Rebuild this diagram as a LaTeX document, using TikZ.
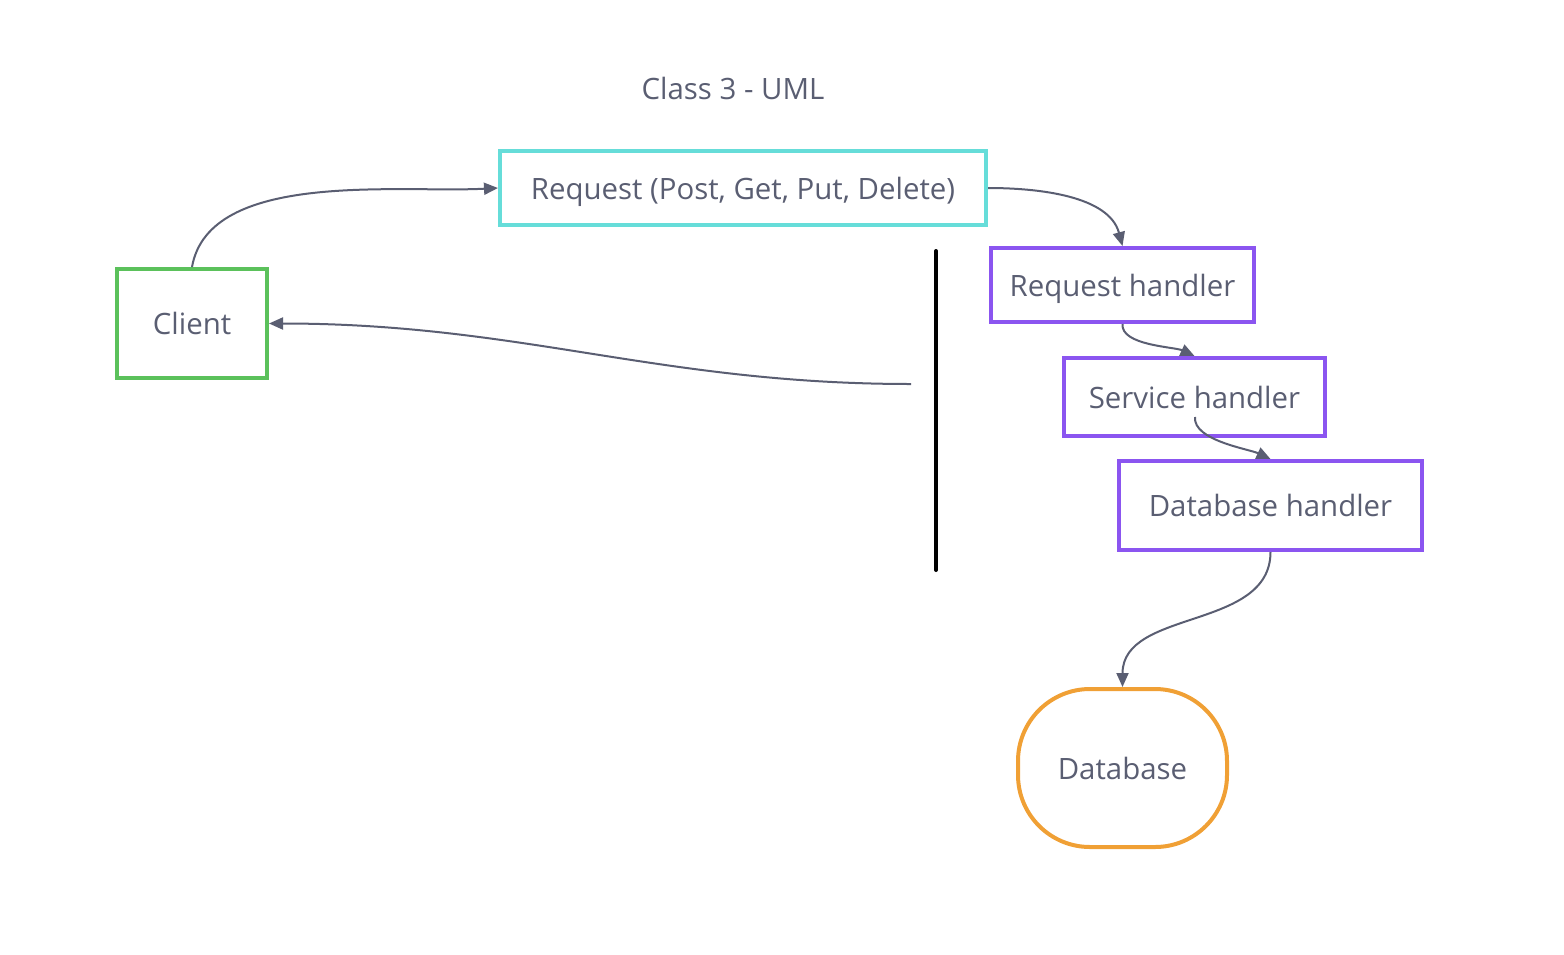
\documentclass[tikz,border=0pt]{standalone}
\usepackage{fontspec}
\setmainfont{Open Sans}
\usetikzlibrary{arrows.meta}
\definecolor{ink}{RGB}{90,94,114}
\definecolor{reqcol}{RGB}{102,221,217}
\definecolor{clientcol}{RGB}{91,193,91}
\definecolor{handlercol}{RGB}{139,85,240}
\definecolor{dbcol}{RGB}{240,160,53}

\begin{document}
\begin{tikzpicture}[x=0.5pt,y=-0.5pt,
    box/.style={draw,line width=2pt,text=ink,font=\fontsize{14.7}{17}\selectfont,inner sep=0pt,text depth=0pt},
    flow/.style={draw=ink,line width=1pt,-{Triangle[length=7pt,width=6pt]}}]
        \useasboundingbox (0,0) rectangle (1564,954);

        \node (title) at (733,88) [text=ink,font=\fontsize{14.7}{17}\selectfont] {Class 3 - UML};

        \node (req) at (743,188) [box,draw=reqcol,minimum width=243pt,minimum height=37pt] {Request (Post, Get, Put, Delete)};
        \node (client) at (192,323.5) [box,draw=clientcol,minimum width=75pt,minimum height=54.5pt] {Client};

        \node (reqh) at (1122.5,285) [box,draw=handlercol,minimum width=131.5pt,minimum height=37pt] {Request handler};
        \node (svc) at (1194.5,397) [box,draw=handlercol,minimum width=130.5pt,minimum height=39pt] {Service handler};
        \node (dbh) at (1270.5,505.5) [box,draw=handlercol,minimum width=151.5pt,minimum height=44.5pt] {Database handler};
        \node (db) at (1122.5,768) [box,draw=dbcol,rounded corners=36pt,minimum width=104.5pt,minimum height=79pt] {Database};

        % boundary line
        \coordinate (bartop) at (936,251);
        \coordinate (barbot) at (936,570);
        \draw[line width=2pt,line cap=round] (bartop) -- (barbot);

        \coordinate (back) at (911,384);
        \coordinate (svcout) at (1195,417);

        \draw[flow] (client.north) to[out=80,in=183,looseness=0.8] (req.west);
        \draw[flow] (req.east) to[out=0,in=105,looseness=0.9] (reqh.north);
        \draw[flow] (back) to[out=180,in=0] (client.east);
        \draw[flow] (reqh.south) to[out=-95,in=155,looseness=0.7] (svc.north);
        \draw[flow] (svcout) to[out=-95,in=155,looseness=0.7] (dbh.north);
        \draw[flow] (dbh.south) to[out=-90,in=90] (db.north);
\end{tikzpicture}
\end{document}
